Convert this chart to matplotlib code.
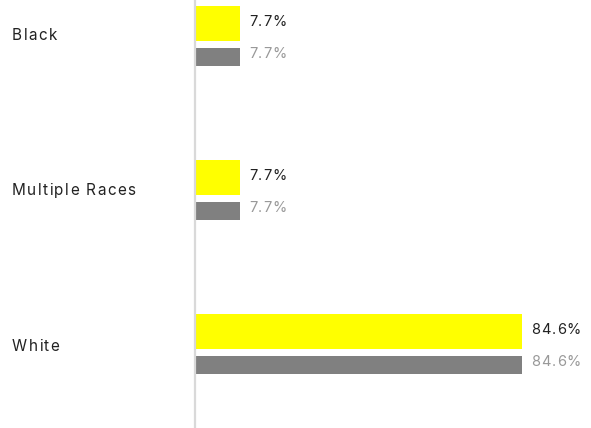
import matplotlib
matplotlib.use("Agg")
import matplotlib.pyplot as plt
from matplotlib.font_manager import FontProperties
from matplotlib.textpath import TextToPath
from matplotlib.transforms import offset_copy

categories = ["Black", "Multiple Races", "White"]
series_a = [7.7, 7.7, 84.6]   # yellow
series_b = [7.7, 7.7, 84.6]   # gray
labels_a = ["7.7%", "7.7%", "84.6%"]
labels_b = ["7.7%", "7.7%", "84.6%"]

W, H = 591, 428
DPI = 100
fig = plt.figure(figsize=(W / DPI, H / DPI), dpi=DPI)
ax_left_px = 195
ax = fig.add_axes([ax_left_px / W, 0, 1 - ax_left_px / W, 1])

px_per_unit = 3.667
x0 = -4.58
ax.set_xlim(x0, x0 + (W - ax_left_px) / px_per_unit)
ax.set_ylim(2.518, -0.261)

FONT = "Inter"
_t2p = TextToPath()


def tracked_text(trans, x, y, s, size, color, tracking_px):
    """Draw string s starting at (x, y) with extra letter spacing (in px)."""
    prop = FontProperties(family=FONT, size=size)
    for k, ch in enumerate(s):
        if k == 0:
            adv_pt = 0.0
        else:
            adv_pt, _, _ = _t2p.get_text_width_height_descent(s[:k], prop, ismath=False)
        dx_pt = adv_pt + k * tracking_px * 72 / DPI
        t = offset_copy(trans, fig=fig, x=dx_pt, y=0, units="points")
        fig.text(x, y, ch, transform=t, fontproperties=prop, color=color,
                 va="center", ha="left")


yellow = "#ffff00"
gray = "#808080"
off = 0.109
for i, (a, b) in enumerate(zip(series_a, series_b)):
    ax.barh(i - off, a - x0, left=x0, height=0.227, color=yellow, linewidth=0)
    ax.barh(i + off, b - x0, left=x0, height=0.117, color=gray, linewidth=0)
    tracked_text(ax.transData, a + 9 / px_per_unit, i - off - 0.012, labels_a[i],
                 10.5, "#222222", 1.0)
    tracked_text(ax.transData, b + 9 / px_per_unit, i + off - 0.017, labels_b[i],
                 10.5, "#999999", 1.0)
    tracked_text(fig.transFigure, 12 / W, 1 - (i * 155.3 + 35.5) / H, categories[i],
                 11, "#222222", 1.4)

for s in ["top", "right", "bottom"]:
    ax.spines[s].set_visible(False)
ax.spines["left"].set_color("#d9d9d9")
ax.spines["left"].set_linewidth(1.6)
ax.set_xticks([])
ax.set_yticks([])
ax.patch.set_alpha(0)

fig.savefig("out.png", dpi=DPI)
